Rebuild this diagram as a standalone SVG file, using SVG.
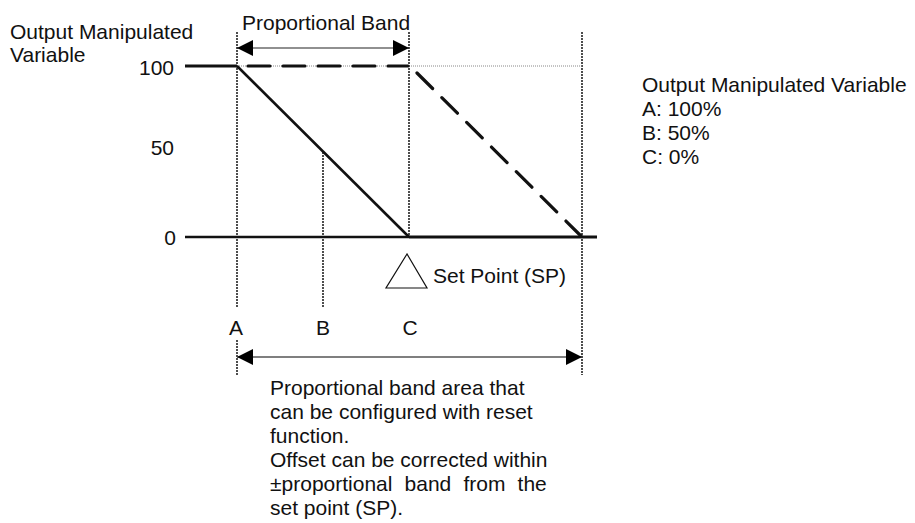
<svg xmlns="http://www.w3.org/2000/svg" width="915" height="523" viewBox="0 0 915 523">
<defs>
<style>
text{font-family:"Liberation Sans",Arial,sans-serif;font-size:21px;fill:#111}
.vd{stroke:#222;stroke-width:1.6;stroke-dasharray:2 1;fill:none}
.thick{stroke:#111;stroke-width:3;fill:none}
.dash{stroke:#111;stroke-width:3.2;stroke-dasharray:22 13;stroke-linecap:round;fill:none}
</style>
<marker id="ah" viewBox="0 0 16 16" refX="16" refY="8" markerWidth="16" markerHeight="16" markerUnits="userSpaceOnUse" orient="auto-start-reverse">
<path d="M0,0 L16,8 L0,16 Z" fill="#000"/>
</marker>
</defs>
<g id="connectors">
<line class="vd" x1="237" y1="32" x2="237" y2="307"/>
<line class="vd" x1="237" y1="340" x2="237" y2="375"/>
<line class="vd" x1="323" y1="152" x2="323" y2="307"/>
<line class="vd" x1="409" y1="32" x2="409" y2="237"/>
<line class="vd" x1="582" y1="32" x2="582" y2="375"/>
<line x1="237" y1="66" x2="582" y2="66" stroke="#888" stroke-width="1" stroke-dasharray="1 1"/>
<line class="thick" x1="185" y1="66" x2="237" y2="66"/>
<line x1="237" y1="66" x2="409" y2="237" stroke="#111" stroke-width="2.6"/>
<line x1="185" y1="237" x2="409" y2="237" stroke="#111" stroke-width="2.4"/>
<line class="thick" x1="409" y1="237" x2="597" y2="237"/>
<line class="dash" x1="248" y1="66" x2="408" y2="66"/>
<line class="dash" stroke-dasharray="23 12.6" x1="417" y1="73" x2="581" y2="236"/>
<line x1="237" y1="48" x2="409" y2="48" stroke="#222" stroke-width="1.2" marker-start="url(#ah)" marker-end="url(#ah)"/>
<line x1="237" y1="357" x2="582" y2="357" stroke="#555" stroke-width="1.6" marker-start="url(#ah)" marker-end="url(#ah)"/>
</g>
<g id="axis-labels">
<text x="10" y="39">Output Manipulated</text>
<text x="10" y="62">Variable</text>
<text x="174" y="75" text-anchor="end">100</text>
<text x="174" y="155" text-anchor="end">50</text>
<text x="176" y="245" text-anchor="end">0</text>
</g>
<g id="proportional-band-label">
<text x="242" y="30">Proportional Band</text>
</g>
<g id="set-point">
<path d="M407,254 L386,288 L427,288 Z" fill="#fff" stroke="#111" stroke-width="1.2"/>
<text x="433" y="283">Set Point (SP)</text>
</g>
<g id="point-labels">
<text x="236" y="335" text-anchor="middle">A</text>
<text x="323" y="335" text-anchor="middle">B</text>
<text x="410" y="335" text-anchor="middle">C</text>
</g>
<g id="legend">
<text x="642" y="92">Output Manipulated Variable</text>
<text x="642" y="116">A: 100%</text>
<text x="642" y="140">B: 50%</text>
<text x="642" y="164">C: 0%</text>
</g>
<g id="note">
<text x="270" y="395">Proportional band area that</text>
<text x="270" y="419">can be configured with reset</text>
<text x="270" y="443">function.</text>
<text x="270" y="467">Offset can be corrected within</text>
<text x="270" y="491" word-spacing="6.3">±proportional band from the</text>
<text x="270" y="515">set point (SP).</text>
</g>
</svg>
